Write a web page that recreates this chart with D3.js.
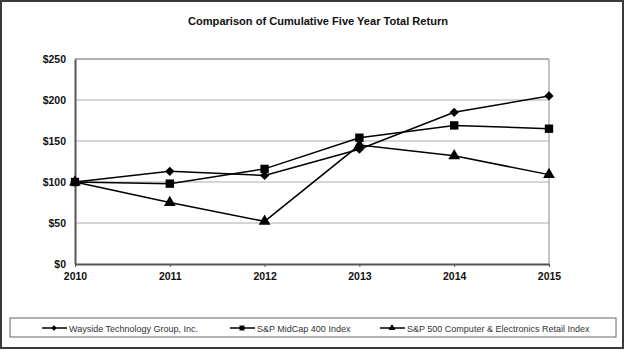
<!DOCTYPE html>
<html>
<head>
<meta charset="utf-8">
<script src="https://cdn.jsdelivr.net/npm/d3@7"></script>
<style>
  body { margin: 0; background: #fff; }
  svg { display: block; font-family: "Liberation Sans", Arial, sans-serif; }
</style>
</head>
<body>
<svg id="chart" width="625" height="351"></svg>
<script>
// data
const years = [2010, 2011, 2012, 2013, 2014, 2015];
const wayside = [100, 113, 108, 140, 185, 205];
const midcap = [100, 98, 116, 154, 169, 165];
const compRetail = [100, 75, 52, 145, 132, 109];
const yTicks = [0, 50, 100, 150, 200, 250];
const seriesNames = ["Wayside Technology Group, Inc.", "S&P MidCap 400 Index", "S&P 500 Computer & Electronics Retail Index"];

const series = [
    {name: seriesNames[0], values: wayside, symbol: d3.symbolDiamond2, size: 55},
    {name: seriesNames[1], values: midcap, symbol: d3.symbolSquare, size: 70},
    {name: seriesNames[2], values: compRetail, symbol: d3.symbolTriangle, size: 60}
];

const svg = d3.select('#chart');
const plot = {left: 75, right: 549, top: 59, bottom: 264};

// outer frame
svg.append('rect')
    .attr('x', 1).attr('y', 1)
    .attr('width', 622).attr('height', 347)
    .attr('fill', 'none')
    .attr('stroke', '#3a3a3a')
    .attr('stroke-width', 2);

svg.append('text')
    .attr('x', 318).attr('y', 25)
    .attr('text-anchor', 'middle')
    .attr('font-size', 11.5)
    .attr('font-weight', 'bold')
    .attr('fill', '#111')
    .attr('textLength', 260)
    .attr('lengthAdjust', 'spacingAndGlyphs')
    .text('Comparison of Cumulative Five Year Total Return');

const x = d3.scalePoint().domain(years).range([plot.left, plot.right]);
const y = d3.scaleLinear().domain([0, 250]).range([plot.bottom, plot.top]);

// gridlines
svg.append('g')
    .selectAll('line')
    .data(yTicks.filter(v => v > 0))
    .join('line')
    .attr('x1', plot.left).attr('x2', plot.right)
    .attr('y1', d => y(d)).attr('y2', d => y(d))
    .attr('stroke', '#c8c8c8')
    .attr('stroke-width', 1.5);

// plot border top/right
svg.append('path')
    .attr('d', `M${plot.left},${plot.top}H${plot.right}V${plot.bottom}`)
    .attr('fill', 'none')
    .attr('stroke', '#8a8a8a')
    .attr('stroke-width', 1);

// y axis
const yAxis = svg.append('g')
    .attr('transform', `translate(${plot.left},0)`)
    .call(d3.axisLeft(y).tickValues(yTicks).tickSize(0).tickPadding(9).tickFormat(d => '$' + d));
yAxis.select('.domain').attr('stroke', '#555').attr('stroke-width', 2);
yAxis.selectAll('text')
    .attr('font-family', '"Liberation Sans", Arial, sans-serif')
    .attr('font-size', 10.5).attr('font-weight', 'bold').attr('fill', '#111');

// x axis
const xAxis = svg.append('g')
    .attr('transform', `translate(0,${plot.bottom})`)
    .call(d3.axisBottom(x).tickSize(3).tickSizeOuter(0).tickPadding(6));
xAxis.select('.domain').attr('stroke', '#555').attr('stroke-width', 2);
xAxis.selectAll('.tick line').attr('stroke', '#555');
xAxis.selectAll('text')
    .attr('font-family', '"Liberation Sans", Arial, sans-serif')
    .attr('font-size', 10.5).attr('font-weight', 'bold').attr('fill', '#111');

const line = d3.line().x((d, i) => x(years[i])).y(d => y(d));

series.forEach(s => {
    svg.append('path')
        .datum(s.values)
        .attr('d', line)
        .attr('fill', 'none')
        .attr('stroke', '#000')
        .attr('stroke-width', 1.5);
    svg.append('g')
        .selectAll('path')
        .data(s.values)
        .join('path')
        .attr('transform', (d, i) => `translate(${x(years[i])},${y(d)})`)
        .attr('d', d3.symbol(s.symbol, s.size))
        .attr('fill', '#000');
});

// legend
svg.append('rect')
    .attr('x', 10).attr('y', 318)
    .attr('width', 606).attr('height', 19)
    .attr('fill', '#fff')
    .attr('stroke', '#666')
    .attr('stroke-width', 1);

const legendX = [42, 230, 380];
const lg = svg.append('g')
    .selectAll('g')
    .data(series)
    .join('g')
    .attr('transform', (d, i) => `translate(${legendX[i]},328)`);
lg.append('line')
    .attr('x1', 0).attr('x2', 25)
    .attr('stroke', '#000').attr('stroke-width', 1.5);
lg.append('path')
    .attr('transform', 'translate(12,0)')
    .attr('d', d => d3.symbol(d.symbol, d.size * 0.35)())
    .attr('fill', '#000');
lg.append('text')
    .attr('x', 27).attr('y', 3.5)
    .attr('font-size', 9)
    .attr('fill', '#333')
    .text(d => d.name);
</script>
</body>
</html>
